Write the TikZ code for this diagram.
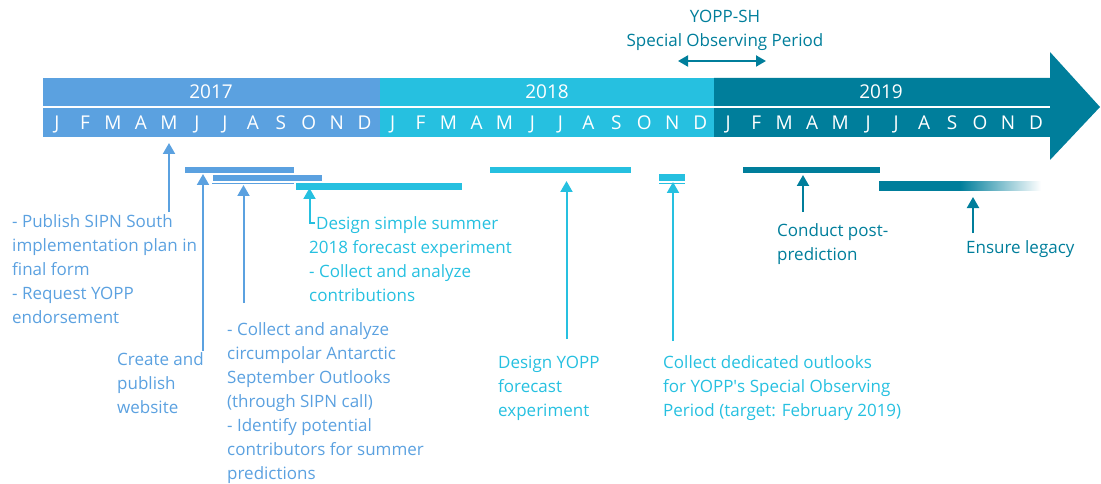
\documentclass[tikz,border=0pt]{standalone}
\usepackage{fontspec}
\setmainfont{Open Sans}
\usetikzlibrary{arrows.meta}
\definecolor{cA}{RGB}{91,161,224}
\definecolor{cB}{RGB}{38,192,224}
\definecolor{cC}{RGB}{0,126,155}
\begin{document}
\begin{tikzpicture}[x=1pt,y=-1pt,
  lbl/.style={font=\fontsize{17}{24}\selectfont, align=left, anchor=base west, inner sep=0pt},
  bartxt/.style={font=\fontsize{19}{22}\selectfont, text=white, inner sep=0pt, text height=13.5pt, text depth=0pt},
  up/.style={line width=2pt, -{Triangle[width=12pt,length=11pt]}},
  task/.style={line width=6pt}]
\useasboundingbox (0,0) rectangle (1101,484);
% main bar
\fill[cA] (43,78) rectangle (380,137);
\fill[cB] (380,78) rectangle (714,137);
\fill[cC] (714,78) -- (1050,78) -- (1050,52) -- (1100,107) -- (1050,160) -- (1050,137) -- (714,137) -- cycle;
\draw[white, line width=2pt] (43,107) -- (1050,107);
\node[bartxt] (y17) at (211,92) {2017};
\node[bartxt] (y18) at (547,92) {2018};
\node[bartxt] (y19) at (881,92) {2019};
\foreach \m [count=\i from 0] in {J,F,M,A,M,J,J,A,S,O,N,D,J,F,M,A,M,J,J,A,S,O,N,D,J,F,M,A,M,J,J,A,S,O,N,D}
  \node[bartxt] (m\i) at ({43+(\i+0.5)*27.97},123) {\m};
% top label
\node[font=\fontsize{17}{24}\selectfont, align=center, anchor=base, inner sep=0pt, text=cC] (sop) at (725,47) {YOPP-SH\\Special Observing Period};
\coordinate (sopL) at (678,61);
\coordinate (sopR) at (766,61);
\draw[cC, line width=2pt, {Triangle[width=11pt,length=10pt]}-{Triangle[width=11pt,length=10pt]}] (sopL) -- (sopR);
% task bars
\draw[task, cA] (185,170) -- (294,170);
\draw[task, cA] (213,178) -- (322,178);
\draw[cA, line width=1pt] (212,183.5) -- (294,183.5);
\draw[line width=7pt, cB] (296,186.5) -- (462,186.5);
\draw[task, cB] (490,170) -- (631,170);
\draw[line width=7pt, cB] (659,177.5) -- (685,177.5);
\draw[cB, line width=1pt] (659,183.5) -- (685,183.5);
\draw[task, cC] (743,170) -- (880,170);
\fill[cC] (879,181.5) rectangle (960,191);
\shade[left color=cC, right color=white] (960,181.5) rectangle (1041,191);
% arrows
\coordinate (a1t) at (169,143); \coordinate (a1s) at (169,212);
\coordinate (a2t) at (203,174); \coordinate (a2s) at (203,351);
\coordinate (a3t) at (243.5,185); \coordinate (a3s) at (243.5,303);
\coordinate (a4t) at (309.5,188); \coordinate (a4s) at (315,223);
\coordinate (a5t) at (566.5,181); \coordinate (a5s) at (566.5,339);
\coordinate (a6t) at (673,182); \coordinate (a6s) at (673,341);
\coordinate (a7t) at (803,175); \coordinate (a7s) at (803,212);
\coordinate (a8t) at (973,197); \coordinate (a8s) at (973,233);
\draw[up, cA] (a1s) -- (a1t);
\draw[up, cA] (a2s) -- (a2t);
\draw[up, cA] (a3s) -- (a3t);
\draw[up, cB] (a4s) -| (a4t);
\draw[up, cB] (a5s) -- (a5t);
\draw[up, cB] (a6s) -- (a6t);
\draw[up, cC] (a7s) -- (a7t);
\draw[up, cC] (a8s) -- (a8t);
% texts (base anchor = baseline of last line)
\node[lbl, text=cA] (t1) at (12,323) {- Publish SIPN South\\implementation plan in\\final form\\- Request YOPP\\endorsement};
\node[lbl, text=cA] (t2) at (117,413) {Create and\\publish\\website};
\node[lbl, text=cA] (t3) at (227,479) {- Collect and analyze\\circumpolar Antarctic\\September Outlooks\\(through SIPN call)\\- Identify potential\\contributors for summer\\predictions};
\node[lbl, text=cB] (t4) at (309,301) {\hspace*{7pt}Design simple summer\\2018 forecast experiment\\- Collect and analyze\\contributions};
\node[lbl, text=cB] (t5) at (498,416) {Design YOPP\\forecast\\experiment};
\node[lbl, text=cB] (t6) at (663,416) {Collect dedicated outlooks\\for YOPP\textquotesingle s Special Observing\\Period (target: February 2019)};
\node[lbl, text=cC] (t7) at (777,260) {Conduct post-\\prediction};
\node[lbl, text=cC] (t8) at (966,253) {Ensure legacy};
\end{tikzpicture}
\end{document}
